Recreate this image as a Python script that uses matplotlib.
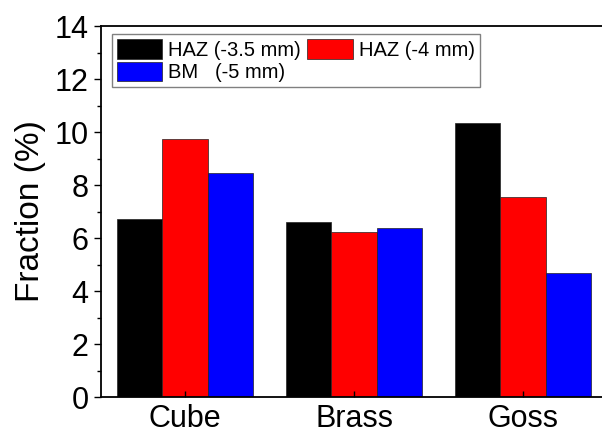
import numpy as np
import matplotlib
matplotlib.use("Agg")
import matplotlib.pyplot as plt
from matplotlib.ticker import MultipleLocator

plt.rcParams["font.family"] = ["Liberation Sans", "DejaVu Sans"]

categories = ["Cube", "Brass", "Goss"]
series_labels = ["HAZ (-3.5 mm)", "HAZ (-4 mm)", "BM   (-5 mm)"]
haz_35 = [6.71, 6.62, 10.33]
haz_4 = [9.72, 6.24, 7.56]
bm_5 = [8.46, 6.37, 4.67]
colors = ["#000000", "#ff0000", "#0000ff"]

fig = plt.figure(figsize=(6.02, 4.36), dpi=100)
# 轴框右侧在原图中被裁掉
ax = fig.add_axes([101 / 602, 1 - 397 / 436, 501 / 602, 371 / 436])

x = np.arange(len(categories))
w = 0.268
handles = []
for i, (vals, c) in enumerate(zip([haz_35, haz_4, bm_5], colors)):
    b = ax.bar(x + (i - 1) * w, vals, w, color=c, edgecolor="#222222",
               linewidth=0.5, label=series_labels[i])
    handles.append(b)

ax.set_xlim(-0.497, 2.467)
ax.set_ylim(0, 14)
ax.set_xticks(x)
ax.set_xticklabels(categories, fontsize=22)
ax.yaxis.set_major_locator(MultipleLocator(2))
ax.yaxis.set_minor_locator(MultipleLocator(1))
ax.tick_params(axis="y", which="major", direction="out", length=5, width=1,
               labelsize=22, pad=4)
ax.tick_params(axis="y", which="minor", direction="out", length=3, width=1)
ax.tick_params(axis="x", direction="in", length=4, width=1, pad=5)
ax.set_ylabel("Fraction (%)", fontsize=24, labelpad=6)

for s in ["left", "bottom", "top"]:
    ax.spines[s].set_linewidth(1.3)
ax.spines["right"].set_visible(False)

# 两列按行排布：HAZ(-3.5) HAZ(-4) / BM
order = [0, 2, 1]
leg = ax.legend([handles[k] for k in order], [series_labels[k] for k in order],
                ncol=2, loc="upper left", bbox_to_anchor=(0.022, 0.978),
                borderaxespad=0, fontsize=14.5, handlelength=2.25,
                handleheight=1.1, handletextpad=0.3, columnspacing=0.3,
                labelspacing=0.1, borderpad=0.25, fancybox=False,
                framealpha=1)
leg.get_frame().set_edgecolor("#808080")
leg.get_frame().set_linewidth(1.0)

fig.savefig("out.png", dpi=100)
